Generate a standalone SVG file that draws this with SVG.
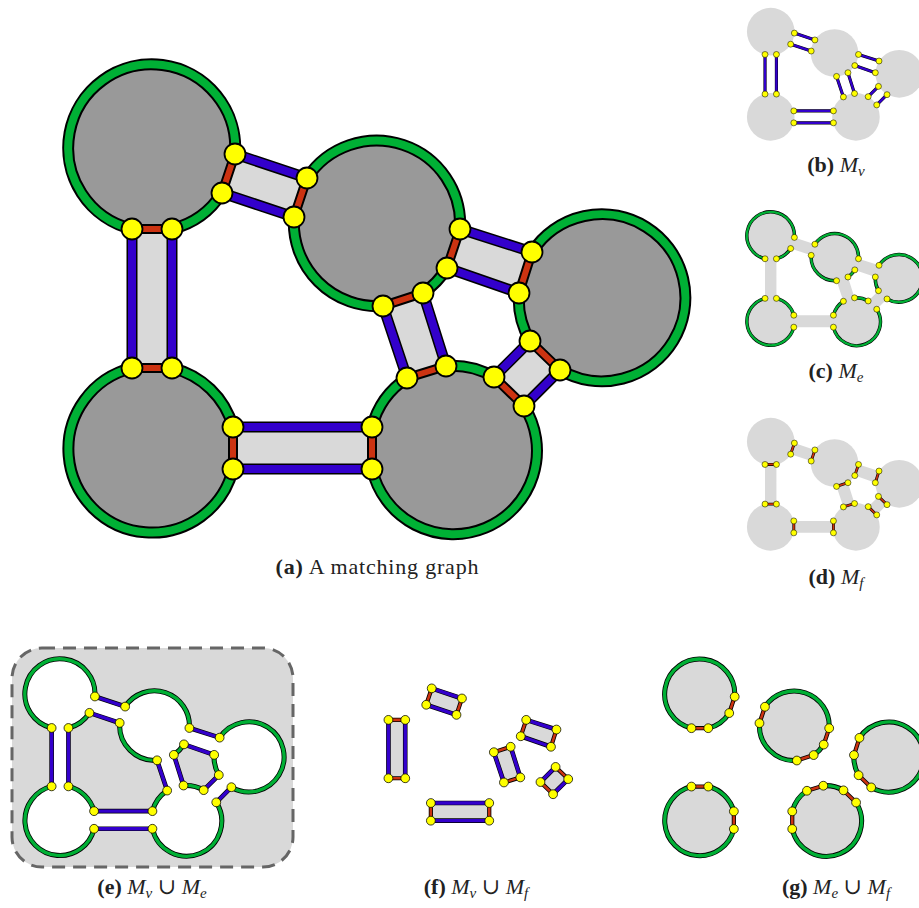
<svg xmlns="http://www.w3.org/2000/svg" xmlns:xlink="http://www.w3.org/1999/xlink" width="919" height="908" viewBox="0 0 919 908">
<style>
.bg{fill:#fff}
.disc-dark{fill:#999999}
.disc-light{fill:#d9d9d9}
.bfill{fill:#d9d9d9}
.ce{fill:none;stroke:#000;stroke-width:12}
.e{fill:none;stroke:#00b035;stroke-width:8}
.cv{fill:none;stroke:#000;stroke-width:11}
.v{fill:none;stroke:#3300cc;stroke-width:8}
.cf{fill:none;stroke:#000;stroke-width:10}
.f{fill:none;stroke:#cc3311;stroke-width:6}
.dot{fill:#ffff00;stroke:#000;stroke-width:1.8}
.white{fill:#fff;fill-rule:evenodd}
.frame{fill:#d9d9d9;stroke:#666;stroke-width:3;stroke-dasharray:13 8}
.cap{font-family:"Liberation Serif","DejaVu Serif",serif;font-size:22px;fill:#222}
.b{font-weight:bold}
.i{font-style:italic}
.sub{font-style:italic;font-size:15px}
</style>
<defs>
<g id="discs">
<circle id="disc-A" cx="152" cy="149" r="83.5"/>
<circle id="disc-B" cx="376" cy="224" r="83.5"/>
<circle id="disc-C" cx="603" cy="297" r="83.5"/>
<circle id="disc-D" cx="152" cy="448" r="83.5"/>
<circle id="disc-E" cx="451" cy="448" r="83.5"/>
</g>
<path id="bridgeFill" d="M132,229 L172,229 L172,368 L132,368 Z M235,154 L307,178 L294,217 L222,193 Z M460,229 L532,252 L519,293 L447,268 Z M423,293 L446,366 L407,378 L383,306 Z M530,341 L560,370 L524,406 L494,377 Z M233,427 L372,427 L372,469 L233,469 Z"/>
<path id="arcs" d="M222,193 A83.5,83.5 0 0 1 172,229 M132,229 A83.5,83.5 0 1 1 235,154 M447,268 A83.5,83.5 0 0 1 423,293 M383,306 A83.5,83.5 0 0 1 294,217 M307,178 A83.5,83.5 0 0 1 460,229 M530,341 A83.5,83.5 0 0 1 519,293 M532,252 A83.5,83.5 0 1 1 560,370 M172,368 A83.5,83.5 0 0 1 233,427 M233,469 A83.5,83.5 0 1 1 132,368 M372,427 A83.5,83.5 0 0 1 407,378 M446,366 A83.5,83.5 0 0 1 494,377 M524,406 A83.5,83.5 0 1 1 372,469"/>
<path id="vEdges" d="M132,229 L132,368 M172,229 L172,368 M235,154 L307,178 M222,193 L294,217 M460,229 L532,252 M447,268 L519,293 M423,293 L446,366 M383,306 L407,378 M530,341 L494,377 M560,370 L524,406 M233,427 L372,427 M233,469 L372,469"/>
<path id="fEdges" d="M235,154 L222,193 M132,229 L172,229 M307,178 L294,217 M460,229 L447,268 M423,293 L383,306 M532,252 L519,293 M530,341 L560,370 M132,368 L172,368 M233,427 L233,469 M372,427 L372,469 M407,378 L446,366 M494,377 L524,406"/>
<path id="cycles" d="M132,229 A83.5,83.5 0 1 1 235,154 L307,178 A83.5,83.5 0 0 1 460,229 L532,252 A83.5,83.5 0 1 1 560,370 L524,406 A83.5,83.5 0 1 1 372,469 L233,469 A83.5,83.5 0 1 1 132,368 Z M172,229 L172,368 A83.5,83.5 0 0 1 233,427 L372,427 A83.5,83.5 0 0 1 407,378 L383,306 A83.5,83.5 0 0 1 294,217 L222,193 A83.5,83.5 0 0 1 172,229 Z M447,268 L519,293 A83.5,83.5 0 0 0 530,341 L494,377 A83.5,83.5 0 0 0 446,366 L423,293 A83.5,83.5 0 0 0 447,268 Z"/>
<g id="dots">
<circle cx="235" cy="154" r="10.5"/><circle cx="222" cy="193" r="10.5"/><circle cx="172" cy="229" r="10.5"/><circle cx="132" cy="229" r="10.5"/>
<circle cx="307" cy="178" r="10.5"/><circle cx="294" cy="217" r="10.5"/><circle cx="460" cy="229" r="10.5"/><circle cx="447" cy="268" r="10.5"/><circle cx="423" cy="293" r="10.5"/><circle cx="383" cy="306" r="10.5"/>
<circle cx="532" cy="252" r="10.5"/><circle cx="519" cy="293" r="10.5"/><circle cx="530" cy="341" r="10.5"/><circle cx="560" cy="370" r="10.5"/>
<circle cx="132" cy="368" r="10.5"/><circle cx="172" cy="368" r="10.5"/><circle cx="233" cy="427" r="10.5"/><circle cx="233" cy="469" r="10.5"/>
<circle cx="372" cy="427" r="10.5"/><circle cx="372" cy="469" r="10.5"/><circle cx="407" cy="378" r="10.5"/><circle cx="446" cy="366" r="10.5"/><circle cx="494" cy="377" r="10.5"/><circle cx="524" cy="406" r="10.5"/>
</g>
</defs>
<rect class="bg" x="0" y="0" width="919" height="908"/>

<g id="panel-a">
<g id="a-nodes"><use class="disc-dark" xlink:href="#discs"/></g>
<g id="a-connectors">
<use class="bfill" xlink:href="#bridgeFill"/>
<use class="ce" xlink:href="#arcs"/><use class="e" xlink:href="#arcs"/>
<use class="cv" xlink:href="#vEdges"/><use class="v" xlink:href="#vEdges"/>
<use class="cf" xlink:href="#fEdges"/><use class="f" xlink:href="#fEdges"/>
</g>
<g id="a-vertices"><use class="dot" xlink:href="#dots"/></g>
</g>

<g id="panel-b" transform="translate(727.4,-10.8) scale(0.285)">
<use class="disc-light" xlink:href="#discs"/>
<use class="cv" xlink:href="#vEdges"/><use class="v" xlink:href="#vEdges"/>
<use class="dot" xlink:href="#dots"/>
</g>

<g id="panel-c" transform="translate(727.4,193.5) scale(0.285)">
<use class="disc-light" xlink:href="#discs"/>
<use class="bfill" xlink:href="#bridgeFill"/>
<use class="ce" xlink:href="#arcs"/><use class="e" xlink:href="#arcs"/>
<use class="dot" xlink:href="#dots"/>
</g>

<g id="panel-d" transform="translate(727.4,399.2) scale(0.285)">
<use class="disc-light" xlink:href="#discs"/>
<use class="bfill" xlink:href="#bridgeFill"/>
<use class="cf" xlink:href="#fEdges"/><use class="f" xlink:href="#fEdges"/>
<use class="dot" xlink:href="#dots"/>
</g>

<g id="panel-e">
<rect class="frame" x="12" y="648" width="281" height="219" rx="30" ry="30"/>
<g transform="translate(-3.8,631.8) scale(0.42)">
<use class="white" xlink:href="#cycles"/>
<use class="ce" xlink:href="#arcs"/><use class="e" xlink:href="#arcs"/>
<use class="cv" xlink:href="#vEdges"/><use class="v" xlink:href="#vEdges"/>
<use class="dot" xlink:href="#dots"/>
</g>
</g>

<g id="panel-f" transform="translate(333,623.7) scale(0.42)">
<use class="bfill" xlink:href="#bridgeFill"/>
<use class="cv" xlink:href="#vEdges"/><use class="v" xlink:href="#vEdges"/>
<use class="cf" xlink:href="#fEdges"/><use class="f" xlink:href="#fEdges"/>
<use class="dot" xlink:href="#dots"/>
</g>

<g id="panel-g" transform="translate(636,632) scale(0.42)">
<use class="disc-light" xlink:href="#discs"/>
<use class="ce" xlink:href="#arcs"/><use class="e" xlink:href="#arcs"/>
<use class="cf" xlink:href="#fEdges"/><use class="f" xlink:href="#fEdges"/>
<use class="dot" xlink:href="#dots"/>
</g>

<g id="captions">
<text class="cap" x="377" y="574" text-anchor="middle" textLength="203" lengthAdjust="spacing"><tspan class="b">(a)</tspan> A matching graph</text>
<text class="cap" x="836" y="172" text-anchor="middle"><tspan class="b">(b)</tspan> <tspan class="i">M</tspan><tspan class="sub" dy="4">v</tspan></text>
<text class="cap" x="836" y="378" text-anchor="middle"><tspan class="b">(c)</tspan> <tspan class="i">M</tspan><tspan class="sub" dy="4">e</tspan></text>
<text class="cap" x="836" y="584" text-anchor="middle"><tspan class="b">(d)</tspan> <tspan class="i">M</tspan><tspan class="sub" dy="4">f</tspan></text>
<text class="cap" x="152" y="894" text-anchor="middle"><tspan class="b">(e)</tspan> <tspan class="i">M</tspan><tspan class="sub" dy="4">v</tspan><tspan dy="-4"> ∪ </tspan><tspan class="i">M</tspan><tspan class="sub" dy="4">e</tspan></text>
<text class="cap" x="476" y="894" text-anchor="middle"><tspan class="b">(f)</tspan> <tspan class="i">M</tspan><tspan class="sub" dy="4">v</tspan><tspan dy="-4"> ∪ </tspan><tspan class="i">M</tspan><tspan class="sub" dy="4">f</tspan></text>
<text class="cap" x="836" y="894" text-anchor="middle"><tspan class="b">(g)</tspan> <tspan class="i">M</tspan><tspan class="sub" dy="4">e</tspan><tspan dy="-4"> ∪ </tspan><tspan class="i">M</tspan><tspan class="sub" dy="4">f</tspan></text>
</g>
</svg>
